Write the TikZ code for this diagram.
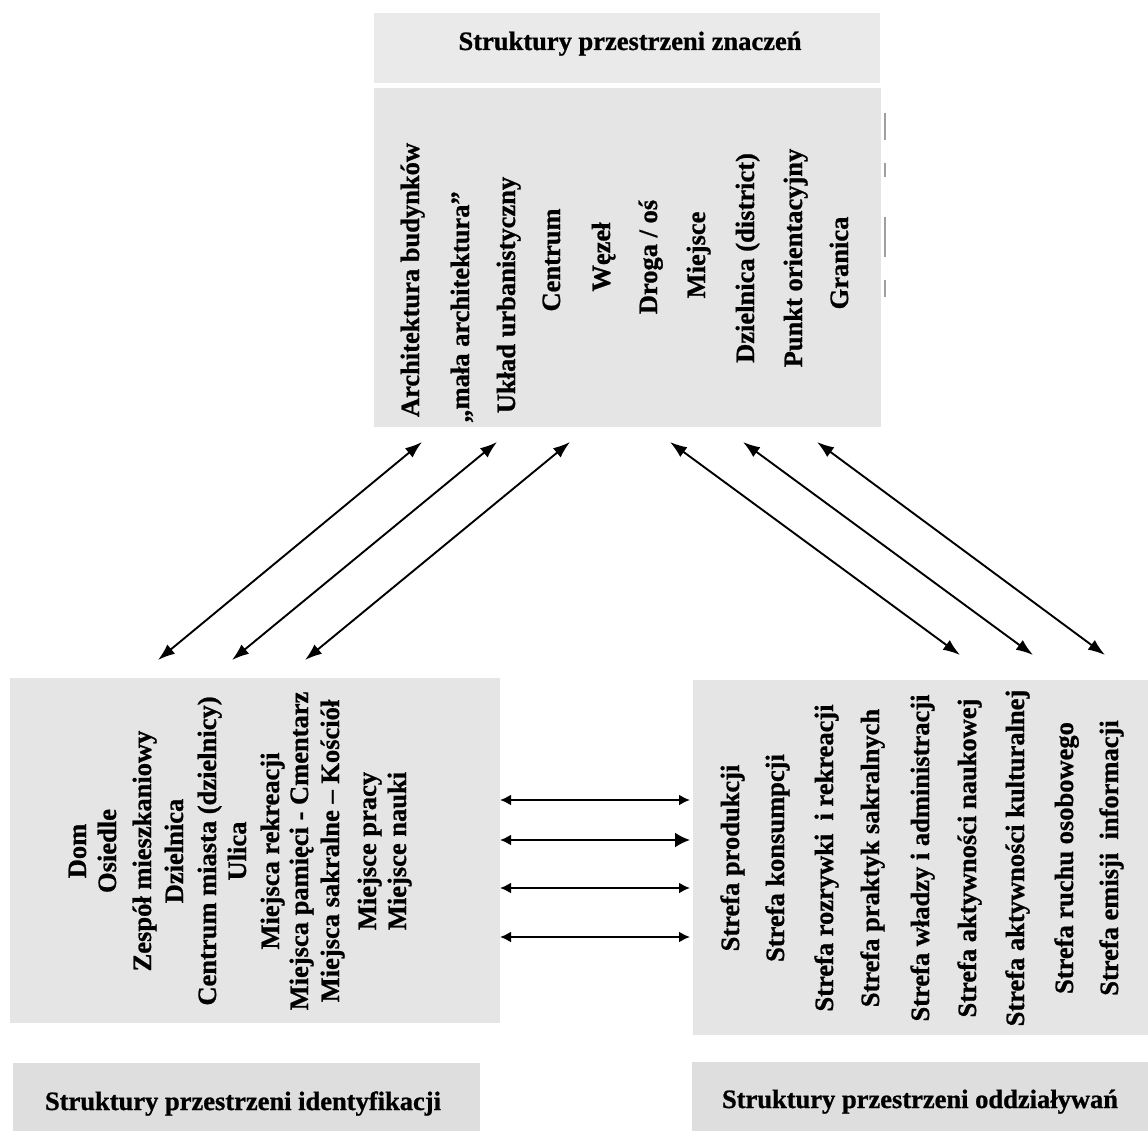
\documentclass[tikz,border=0pt]{standalone}
\usepackage{fontspec}
\setmainfont{Liberation Serif}
\newfontfamily\heavyfont{Liberation Serif Bold}[FakeBold=0.9]
\usetikzlibrary{arrows.meta}
\definecolor{boxgray}{RGB}{229,229,229}
\definecolor{titlegray}{RGB}{234,234,234}
\definecolor{labelgray}{RGB}{222,222,222}
\tikzset{
  vtext/.style={rotate=90, inner sep=0pt, text height=18pt, text depth=6pt,
     font=\fontsize{26.5}{30}\heavyfont},
  htext/.style={inner sep=0pt, anchor=base,
     font=\fontsize{26.5}{30}\heavyfont},
  diag/.style={line width=1.9pt, {Latex[length=17pt,width=12pt]}-{Latex[length=17pt,width=12pt]}},
  hsmall/.style={line width=2pt, {Latex[length=11pt,width=11pt]}-{Latex[length=11pt,width=11pt]}},
  hbig/.style={line width=2pt, {Latex[length=11pt,width=11pt]}-{Latex[length=15pt,width=15pt]}},
  scanmark/.style={line width=1.6pt, draw=gray!75}
}
\begin{document}
\begin{tikzpicture}[x=1pt,y=-1pt]
\useasboundingbox (0,0) rectangle (1148,1131);
% panels
\fill[titlegray] (374,13) rectangle (880,83);
\fill[boxgray] (374,88) rectangle (881,427);
\fill[boxgray] (10,678) rectangle (500,1023);
\fill[boxgray] (693,680) rectangle (1148,1035);
\fill[labelgray] (13,1063) rectangle (480,1131);
\fill[labelgray] (692,1062) rectangle (1148,1131);
% titles
\node[htext] (tTop) at (630,50) {Struktury przestrzeni znaczeń};
\node[htext] (tLeft) at (243,1110) {Struktury przestrzeni identyfikacji};
\node[htext] (tRight) at (920,1108) {Struktury przestrzeni oddziaływań};
% top column texts
\node[vtext] (a1) at (413,280) {Architektura budynków};
\node[vtext] (a2) at (463,307) {„mała architektura”};
\node[vtext] (a3) at (509,295) {Układ urbanistyczny};
\node[vtext] (a4) at (554,260) {Centrum};
\node[vtext] (a5) at (604,257) {Węzeł};
\node[vtext] (a6) at (651,257) {Droga / oś};
\node[vtext] (a7) at (699,255) {Miejsce};
\node[vtext] (a8) at (748,258) {Dzielnica (district)};
\node[vtext] (a9) at (796,258) {Punkt orientacyjny};
\node[vtext] (a10) at (842,263) {Granica};
% left column texts
\node[vtext] (b1) at (80,851) {Dom};
\node[vtext] (b2) at (110,851) {Osiedle};
\node[vtext] (b3) at (145,851) {Zespół mieszkaniowy};
\node[vtext] (b4) at (177,851) {Dzielnica};
\node[vtext] (b5) at (210,851) {Centrum miasta (dzielnicy)};
\node[vtext] (b6) at (240,851) {Ulica};
\node[vtext] (b7) at (273,851) {Miejsca rekreacji};
\node[vtext] (b8) at (302,851) {Miejsca pamięci - Cmentarz};
\node[vtext] (b9) at (333,851) {Miejsca sakralne – Kościół};
\node[vtext] (b10) at (370,851) {Miejsce pracy};
\node[vtext] (b11) at (400,851) {Miejsce nauki};
% right column texts
\node[vtext] (c1) at (733,858) {Strefa produkcji};
\node[vtext] (c2) at (778,858) {Strefa konsumpcji};
\node[vtext] (c3) at (827,858) {Strefa rozrywki\ \ i rekreacji};
\node[vtext] (c4) at (873,858) {Strefa praktyk sakralnych};
\node[vtext] (c5) at (923,858) {Strefa władzy i administracji};
\node[vtext] (c6) at (970,858) {Strefa aktywności naukowej};
\node[vtext] (c7) at (1018,858) {Strefa aktywności kulturalnej};
\node[vtext] (c8) at (1067,858) {Strefa ruchu osobowego};
\node[vtext] (c9) at (1112,858) {Strefa emisji\ \ informacji};
% scan marks on the top panel edge
\draw[scanmark] (885,113) -- (885,140);
\draw[scanmark] (885,163) -- (885,177);
\draw[scanmark] (885,217) -- (885,257);
\draw[scanmark] (885,280) -- (885,297);
% arrow end points
\coordinate (L1t) at (422,442); \coordinate (L1b) at (158,660);
\coordinate (L2t) at (497,442); \coordinate (L2b) at (232,660);
\coordinate (L3t) at (570,442); \coordinate (L3b) at (305,660);
\coordinate (R1t) at (670,442); \coordinate (R1b) at (960,655);
\coordinate (R2t) at (743,442); \coordinate (R2b) at (1033,655);
\coordinate (R3t) at (817,442); \coordinate (R3b) at (1105,655);
\coordinate (H1l) at (500,800); \coordinate (H1r) at (690,800);
\coordinate (H2l) at (500,840); \coordinate (H2r) at (690,840);
\coordinate (H3l) at (500,888); \coordinate (H3r) at (690,888);
\coordinate (H4l) at (500,937); \coordinate (H4r) at (690,937);
% arrows
\draw[diag] (L1b) -- (L1t);
\draw[diag] (L2b) -- (L2t);
\draw[diag] (L3b) -- (L3t);
\draw[diag] (R1t) -- (R1b);
\draw[diag] (R2t) -- (R2b);
\draw[diag] (R3t) -- (R3b);
\draw[hsmall] (H1l) -- (H1r);
\draw[hbig] (H2l) -- (H2r);
\draw[hsmall] (H3l) -- (H3r);
\draw[hsmall] (H4l) -- (H4r);
\end{tikzpicture}
\end{document}
